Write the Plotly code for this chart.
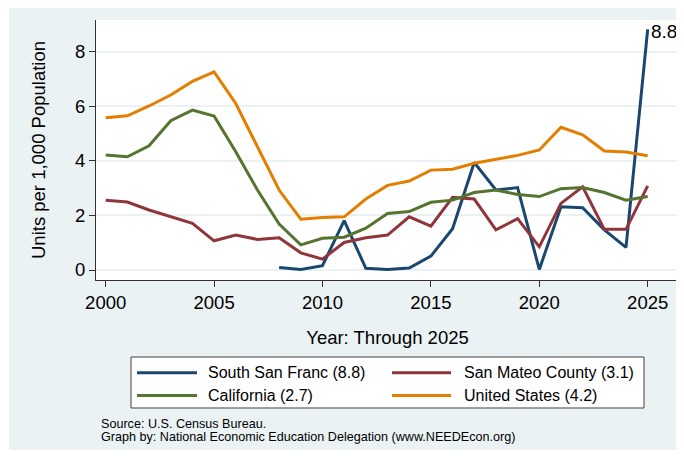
import plotly.graph_objects as go

# ---------------- data ----------------
years = list(range(2000, 2026))
south_san_francisco = [None] * 8 + [0.09, 0.02, 0.16, 1.81, 0.06, 0.02, 0.07, 0.51, 1.51, 3.94,
                                    2.93, 3.02, 0.02, 2.32, 2.28, 1.47, 0.83, 8.82]
san_mateo_county = [2.56, 2.49, 2.20, 1.95, 1.71, 1.07, 1.28, 1.12, 1.18, 0.63, 0.40, 1.01, 1.18,
                    1.28, 1.95, 1.61, 2.66, 2.60, 1.47, 1.88, 0.85, 2.44, 3.05, 1.49, 1.49, 3.08]
california = [4.21, 4.15, 4.55, 5.47, 5.86, 5.64, 4.33, 2.93, 1.68, 0.92, 1.16, 1.20, 1.53,
              2.07, 2.14, 2.48, 2.56, 2.84, 2.93, 2.77, 2.69, 2.98, 3.02, 2.84, 2.56, 2.69]
united_states = [5.58, 5.65, 6.01, 6.41, 6.91, 7.26, 6.10, 4.52, 2.93, 1.86, 1.92, 1.95, 2.60,
                 3.10, 3.26, 3.66, 3.69, 3.91, 4.05, 4.20, 4.40, 5.23, 4.95, 4.36, 4.32, 4.19]

series_names = ["South San Franc (8.8)", "San Mateo County (3.1)", "California (2.7)", "United States (4.2)"]
series_values = [south_san_francisco, san_mateo_county, california, united_states]
series_colors = ["#1A476F", "#90353B", "#55752F", "#E37E00"]
end_label = "8.8"

x_ticks = [2000, 2005, 2010, 2015, 2020, 2025]
y_ticks = [0, 2, 4, 6, 8]
x_title = "Year: Through 2025"
y_title = "Units per 1,000 Population"
notes = ["Source: U.S. Census Bureau.",
         "Graph by: National Economic Education Delegation (www.NEEDEcon.org)"]

# ---------------- layout geometry (window pixel coordinates) ----------------
OFF = 8                      # page body margin
WIN_W, WIN_H = 684, 460
W, H = WIN_W - OFF, WIN_H - OFF
L, R, T, B = 96, 679, 20, 280
FONT = "Liberation Sans, Arial, Helvetica, sans-serif"
BG = "#EAF2F3"


def px_x(px):
    return (px - L) / (R - L)


def px_y(py):
    return (B - py) / (B - T)


fig = go.Figure()
for name, vals, col in zip(series_names, series_values, series_colors):
    fig.add_trace(go.Scatter(x=years, y=vals, mode="lines", name=name,
                             line=dict(color=col, width=3), connectgaps=False))

shapes = []
annotations = []

# white outer strips (image border)
for x0, x1, y0, y1 in [(OFF, 9, OFF, WIN_H), (OFF, WIN_W, 450, WIN_H)]:
    shapes.append(dict(type="rect", xref="paper", yref="paper",
                       x0=px_x(x0), x1=px_x(x1), y0=px_y(y1), y1=px_y(y0),
                       fillcolor="white", line=dict(width=0), layer="below"))

# legend box
shapes.append(dict(type="rect", xref="paper", yref="paper",
                   x0=px_x(131), x1=px_x(644), y0=px_y(408), y1=px_y(357),
                   fillcolor="white", line=dict(color="#404040", width=1)))
leg_cols = [(137, 197, 206), (392, 451, 461.5)]
leg_rows = [372.7, 395.5]
for i, (name, col) in enumerate(zip(series_names, series_colors)):
    lx0, lx1, tx = leg_cols[i % 2]
    ly = leg_rows[i // 2]
    shapes.append(dict(type="line", xref="paper", yref="paper",
                       x0=px_x(lx0), x1=px_x(lx1), y0=px_y(ly), y1=px_y(ly),
                       line=dict(color=col, width=3)))
    annotations.append(dict(text=name, xref="paper", yref="paper", x=px_x(tx), y=px_y(ly),
                            xanchor="left", yanchor="middle", showarrow=False,
                            font=dict(family=FONT, size=16, color="black")))

# source notes
for txt, ny in zip(notes, [424, 436.5]):
    annotations.append(dict(text=txt, xref="paper", yref="paper", x=px_x(98.5), y=px_y(ny),
                            xanchor="left", yanchor="middle", showarrow=False,
                            font=dict(family=FONT, size=12.6, color="black")))

# end label
annotations.append(dict(text=end_label, x=years[-1], y=south_san_francisco[-1],
                        xref="x", yref="y", xanchor="left", yanchor="middle",
                        xshift=1, yshift=-2, showarrow=False,
                        font=dict(family=FONT, size=19, color="black")))

fig.update_layout(
    width=W, height=H,
    margin=dict(l=L - OFF, r=WIN_W - R, t=T - OFF, b=WIN_H - B, pad=0),
    paper_bgcolor=BG, plot_bgcolor="white",
    showlegend=False,
    shapes=shapes, annotations=annotations,
    font=dict(family=FONT, color="black"),
)
fig.update_xaxes(range=[1999.553, 2026.444], tickvals=x_ticks, ticks="outside", ticklen=6,
                 tickcolor="#333333", tickwidth=1, showline=True, linecolor="#333333", linewidth=1,
                 showgrid=False, zeroline=False, tickfont=dict(size=18.5),
                 title=dict(text=x_title, font=dict(size=18.5), standoff=18))
fig.update_yaxes(range=[-0.366, 9.16], tickvals=y_ticks, ticks="outside", ticklen=6,
                 tickcolor="#333333", tickwidth=1, showline=True, linecolor="#333333", linewidth=1,
                 showgrid=True, gridcolor=BG, gridwidth=1.5, zeroline=False,
                 tickfont=dict(size=18.5),
                 title=dict(text=y_title, font=dict(size=18.5), standoff=24))

fig.write_html("out.html")
